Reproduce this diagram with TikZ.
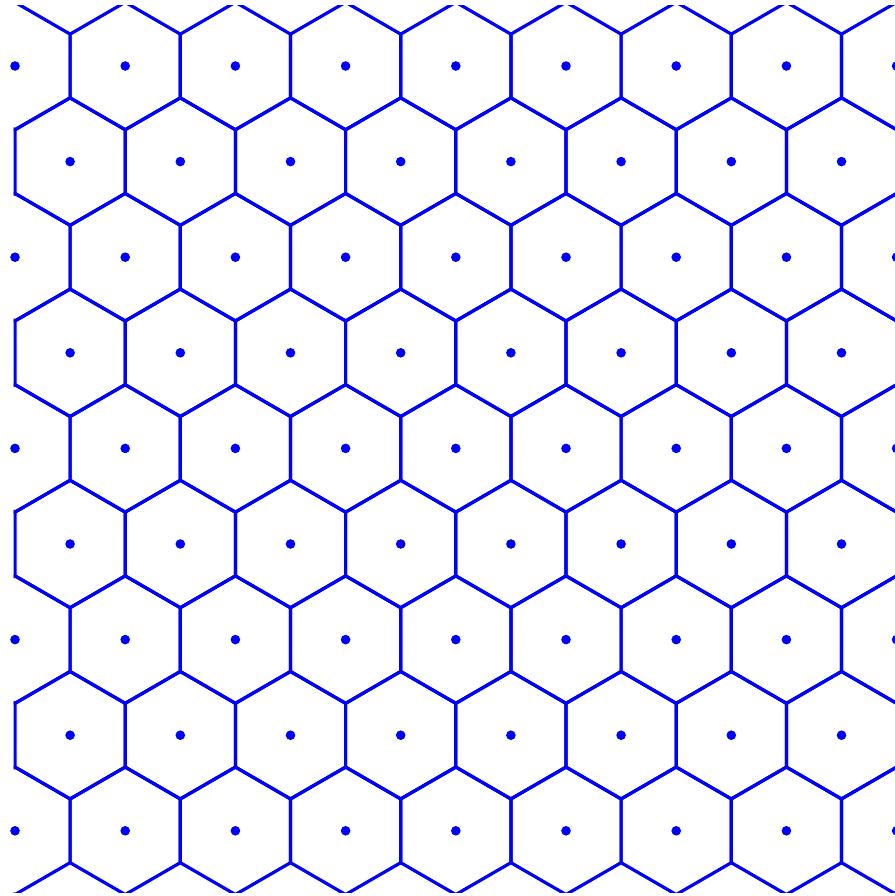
\documentclass[tikz,border=0pt]{standalone}
\definecolor{vblue}{RGB}{0,0,255}
\tikzset{
  cellline/.style={draw=vblue, line width=3.2pt, line join=round},
  site/.style={fill=vblue, draw=none}
}
\begin{document}
\begin{tikzpicture}[x=1pt,y=-1pt]
\useasboundingbox (0,0) rectangle (894,896);
\begin{scope}
\clip (13.5,6) rectangle (900,892);
\foreach \r in {0,...,8}{
  \foreach \k in {0,...,8}{
    \pgfmathsetmacro{\cx}{15+110.2*\k+55.1*mod(\r,2)}
    \pgfmathsetmacro{\cy}{66+95.6*\r}
    \draw[cellline] (\cx,\cy-63.73) -- (\cx+55.1,\cy-31.87) -- (\cx+55.1,\cy+31.87)
      -- (\cx,\cy+63.73) -- (\cx-55.1,\cy+31.87) -- (\cx-55.1,\cy-31.87) -- cycle;
  }
}
\end{scope}
\foreach \r in {0,2,4,6,8}{
  \foreach \k in {0,...,8}{
    \fill[site] ({15+110.2*\k},{66+95.6*\r}) circle (4.8);
  }
}
\foreach \r in {1,3,5,7}{
  \foreach \k in {0,...,7}{
    \fill[site] ({70.1+110.2*\k},{66+95.6*\r}) circle (4.8);
  }
}
\end{tikzpicture}
\end{document}
